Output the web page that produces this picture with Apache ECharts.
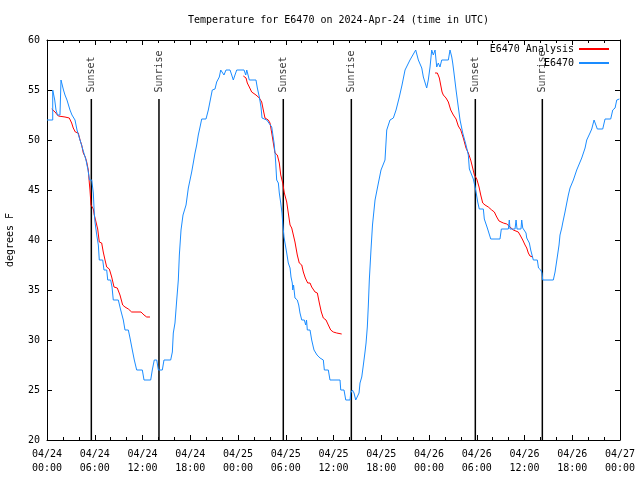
<!DOCTYPE html>
<html><head><meta charset="utf-8">
<script src="https://cdn.jsdelivr.net/npm/echarts@6/dist/echarts.min.js"></script>
<style>html,body{margin:0;padding:0;background:#fff}#c{width:640px;height:480px}</style>
</head><body><div id="c"></div><script>
const titleText = 'Temperature for E6470 on 2024-Apr-24 (time in UTC)';
const yAxisName = 'degrees F';
const startMonth = '04';
const startDay = 24;          // x = 0 h is 04/24 00:00 UTC
const xMinHours = 0, xMaxHours = 72, xStepHours = 6;
const yMin = 20, yMax = 60, yStep = 5;

// E6470 observations: hours since 04/24 00:00 UTC and temperature (F)
const obsHours = [0,0.72,0.72,0.84,0.97,1.13,1.32,1.63,1.76,1.88,2.07,2.26,2.51,2.89,3.14,3.52,3.77,4.15,4.52,4.90,5.15,5.34,5.62,5.82,5.94,6.03,6.25,6.45,6.57,7.00,7.16,7.50,7.63,8.00,8.17,8.33,8.96,9.26,9.59,9.80,10.22,10.43,10.72,10.97,11.27,11.98,12.19,13.03,13.23,13.48,13.79,13.99,14.49,14.70,15.54,15.75,15.87,16.08,16.30,16.50,16.63,16.84,17.09,17.47,17.76,17.97,18.18,18.38,18.60,18.81,19.01,19.23,19.44,19.98,20.27,20.57,20.77,21.11,21.32,21.65,21.83,22.08,22.24,22.49,23.00,23.21,23.41,23.62,23.84,24.76,24.97,25.10,25.30,25.42,26.26,26.43,26.68,26.89,27.02,27.18,27.61,27.83,28.24,28.53,28.65,28.74,28.86,29.07,29.19,29.37,29.53,29.62,29.78,29.95,30.12,30.32,30.54,30.66,30.82,30.88,30.98,31.16,31.45,31.63,31.79,32.01,32.33,32.51,32.61,32.71,33.05,33.26,33.46,33.55,33.93,34.31,34.72,34.85,35.35,35.56,36.82,36.91,37.32,37.54,38.08,38.16,38.37,38.58,38.79,39.04,39.21,39.33,39.55,39.75,39.96,40.09,40.25,40.38,40.50,40.71,40.90,41.22,41.59,41.97,42.47,42.69,43.10,43.52,43.86,44.27,44.61,44.99,45.61,46.33,46.66,47.09,47.29,47.71,47.91,48.13,48.34,48.54,48.76,48.97,49.17,49.38,49.60,50.43,50.64,50.86,50.98,51.14,51.40,51.68,51.90,52.24,52.65,52.94,53.07,53.57,53.87,54.12,54.32,54.83,54.95,55.33,55.58,55.76,56.92,57.09,57.97,58.09,58.18,58.81,58.94,59.06,59.56,59.65,59.78,59.94,60.19,60.28,60.48,60.61,60.78,61.11,61.61,61.76,62.04,62.20,62.29,63.62,63.84,64.12,64.34,64.46,64.68,64.80,65.09,65.31,65.51,65.72,66.14,66.56,66.98,67.19,67.61,67.82,68.23,68.45,68.74,68.93,69.15,69.83,70.12,70.83,71.09,71.38,71.59,71.92];
const obsTemps = [52,52,55,55,54,53,52.5,52.5,56,56,55,54.5,54,53,52.5,52,51,50,49,48,47,46,46,44.7,42.7,41.8,40.5,39.5,38,38,37,37,36,36,35.3,34,34,33,32,31,31,30.2,29,28,27,27,26,26,27,28,28,27,27,28,28,28.8,30.7,31.7,34,36,38.5,41,42.5,43.5,45.2,46,46.8,47.7,48.7,49.5,50.5,51.3,52.1,52.1,53,54.2,55,55.1,55.8,56.3,57,57,56.5,57,57,56.5,56,56.5,57,57,56.5,57,57,56,56,55.2,54.3,53.3,52.2,52,52,51.8,51.3,49.7,48.7,47.7,46,45.7,44.7,43.7,42.7,41.7,40.3,39.5,38.7,37.7,37.2,36.3,35.7,35,35.5,34.2,34,33.5,32.7,32,32,31.5,32,31,31,30,29.3,29,28.5,28.2,28,27,27,26,26,25,25,24,24,24.7,25,24.7,24,24,24.7,25.7,26.3,27.5,28.8,29.7,31.3,33.5,36,39,41.5,44,45.5,47,48,51,52,52.2,53,54.3,55.5,57,58,59,58,57.2,56.3,55.2,56,57.3,59,58.5,59,57.3,57.7,57.3,58,58,59,58.3,57.7,56.7,55,53.3,52,50.7,49.5,48.5,47.1,46.1,45,43.8,43.1,43.1,42.1,41.2,41,40.1,40.1,41.1,41.1,42,41.1,41.1,42,41.1,41.1,42,41.2,41,40.7,40.2,40,39.7,39,38,38,37.2,37,36.7,36,36,36.8,38.3,39.5,40.5,41.2,41.7,42.8,43.7,44.5,45.2,46,47,47.8,48.2,49.2,50,50.7,51.1,52,52,51.1,51.1,52.1,52.1,53,53.2,54,54.1];

// E6470 Analysis: three runs (hours, temperature F)
const anaHours1 = [0.59,1.01,1.42,2.26,2.80,3.10,3.30,3.56,3.93,4.15,4.36,4.56,4.81,4.99,5.19,5.32,5.40,5.53,5.82,5.94,6.16,6.37,6.57,6.87,7.07,7.29,7.50,7.83,8.13,8.42,8.83,9.17,9.51,9.80,10.22,10.64,11.81,12.19,12.53,12.94];
const anaTemps1 = [53.1,52.8,52.4,52.3,52.2,51.7,51.2,50.8,50.7,50,49.5,48.7,48.3,47.8,47,45.7,45,43.5,43.1,42.5,41.8,41.1,39.8,39.7,38.8,38,37.3,37.1,36.3,35.3,35.2,34.5,33.5,33.3,33.1,32.8,32.8,32.5,32.3,32.3];
const anaHours2 = [24.67,25.01,25.17,25.42,25.72,26.26,26.68,26.98,27.18,27.39,27.81,28.02,28.24,28.44,28.65,28.94,29.19,29.37,29.62,29.82,30.12,30.32,30.54,30.75,30.95,31.16,31.45,31.70,32.01,32.21,32.46,32.76,33.05,33.26,33.68,33.97,34.22,34.47,34.72,35.06,35.35,35.65,35.98,36.40,37.03];
const anaTemps2 = [56.4,56.2,55.7,55.3,54.8,54.5,54.2,53.8,53,52.2,52,51.7,50.7,49.7,48.7,48.5,47.7,46.5,45.7,44.7,43.8,42.7,41.5,41.2,41,39.8,38.5,37.7,37.5,36.8,36.2,35.7,35.7,35.3,34.8,34.7,33.7,32.8,32.2,32,31.5,31,30.8,30.7,30.6];
const anaHours3 = [48.76,49.05,49.30,49.47,49.64,49.80,50.14,50.43,50.73,51.06,51.40,51.68,51.99,52.31,52.65,52.94,53.24,53.49,53.70,54.00,54.29,54.50,54.75,55.04,55.45,55.88,56.21,56.51,56.80,57.34,57.77,58.18,58.60,59.22,59.44,59.78,60.07,60.28,60.48,60.69,61.03];
const anaTemps3 = [56.7,56.7,56.2,55.5,54.8,54.5,54.2,53.8,53,52.5,52.1,51.4,51,50.2,49.2,48.7,48,47.2,46.5,46.1,45.3,44.5,43.7,43.5,43.3,43,42.8,42.3,41.9,41.7,41.6,41.3,41,40.8,40.5,40,39.5,39.2,38.7,38.4,38.3];

// Sun events (hours since 04/24 00:00 UTC)
const sunNames = ['Sunset','Sunrise','Sunset','Sunrise','Sunset','Sunrise'];
const sunHours = [5.57,14.07,29.69,38.24,53.82,62.24];
const sunLineTopTemp = 54.1;

const FONT = 'DejaVu Sans Mono';
const BLUE = '#1a8cff', RED = '#ff0000';

function pairs(xs, ys){ return xs.map((x,i)=>[x, ys[i]]); }
const anaData = pairs(anaHours1, anaTemps1)
  .concat([[(anaHours1[anaHours1.length-1]+anaHours2[0])/2,'-']])
  .concat(pairs(anaHours2, anaTemps2))
  .concat([[(anaHours2[anaHours2.length-1]+anaHours3[0])/2,'-']])
  .concat(pairs(anaHours3, anaTemps3));
const obsData = pairs(obsHours, obsTemps);

function xLabel(v){
  const day = startDay + Math.floor(v/24);
  const hr = Math.round(v % 24);
  return startMonth + '/' + String(day).padStart(2,'0') + '\n' + String(hr).padStart(2,'0') + ':00';
}

const sunSeries = [];
sunNames.forEach((nm, i) => {
  sunSeries.push({
    type:'line', silent:true, symbol:'none', z:1,
    data:[[sunHours[i], yMin],[sunHours[i], sunLineTopTemp]],
    lineStyle:{color:'#000', width:1.5}, animation:false
  });
  sunSeries.push({
    type:'scatter', silent:true, symbolSize:1, z:3,
    itemStyle:{color:'rgba(0,0,0,0)'},
    data:[[sunHours[i], sunLineTopTemp]],
    label:{show:true, formatter:nm, position:'top', distance:6, rotate:90,
      align:'left', verticalAlign:'middle', color:'#000', fontFamily:FONT, fontSize:10},
    animation:false
  });
});

const axisCommonX = {
  type:'value', min:xMinHours, max:xMaxHours, interval:xStepHours,
  axisLine:{show:true, onZero:false, lineStyle:{color:'#000', width:1}},
  axisTick:{show:true, inside:true, length:5, lineStyle:{color:'#000'}},
  minorTick:{show:true, splitNumber:3, length:3, lineStyle:{color:'#000'}},
  splitLine:{show:false}
};
const axisCommonY = {
  type:'value', min:yMin, max:yMax, interval:yStep,
  axisLine:{show:true, onZero:false, lineStyle:{color:'#000', width:1}},
  axisTick:{show:true, inside:true, length:5, lineStyle:{color:'#000'}},
  splitLine:{show:false}
};

const chart = echarts.init(document.getElementById('c'), null, {renderer:'canvas'});
chart.setOption({
  animation:false,
  backgroundColor:'#fff',
  title:{text:titleText, left:333.5, textAlign:'center', top:10,
    textStyle:{fontFamily:FONT, fontSize:10, fontWeight:'normal', color:'#000'}},
  legend:{
    data:['E6470 Analysis','E6470'], orient:'vertical', right:30, top:44, padding:0,
    align:'right', itemWidth:30, itemHeight:10, itemGap:4,
    itemStyle:{opacity:0},
    textStyle:{fontFamily:FONT, fontSize:10, color:'#000'}
  },
  grid:{left:47, right:20, top:40, bottom:40, containLabel:false, outerBoundsMode:'none'},
  xAxis:[
    Object.assign({}, axisCommonX, {position:'bottom',
      axisLabel:{formatter:xLabel, fontFamily:FONT, fontSize:10, color:'#000', margin:7, lineHeight:14}}),
    Object.assign({}, axisCommonX, {position:'top', axisLabel:{show:false}})
  ],
  yAxis:[
    Object.assign({}, axisCommonY, {position:'left', name:yAxisName, nameLocation:'middle', nameGap:32,
      nameTextStyle:{fontFamily:FONT, fontSize:10, color:'#000'},
      axisLabel:{fontFamily:FONT, fontSize:10, color:'#000', margin:7}}),
    Object.assign({}, axisCommonY, {position:'right', axisLabel:{show:false}})
  ],
  series:[
    {name:'E6470 Analysis', type:'line', symbol:'none', data:anaData, connectNulls:false,
      lineStyle:{color:RED, width:1}, itemStyle:{color:RED}, z:2},
    {name:'E6470', type:'line', symbol:'none', data:obsData,
      lineStyle:{color:BLUE, width:1}, itemStyle:{color:BLUE}, z:2}
  ].concat(sunSeries)
});
</script></body></html>
